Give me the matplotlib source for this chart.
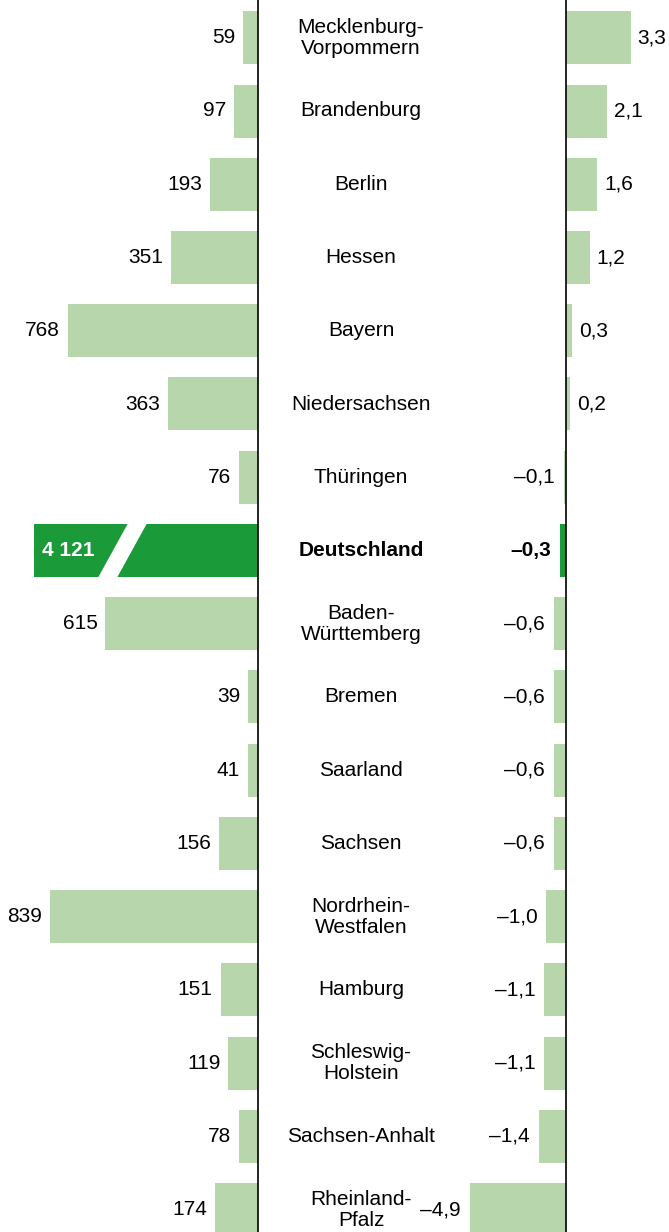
import matplotlib.pyplot as plt
from matplotlib.patches import Polygon
import matplotlib.transforms as mtransforms

plt.rcParams['font.family'] = ['Liberation Sans', 'DejaVu Sans']

# data
states = ["Mecklenburg-\nVorpommern", "Brandenburg", "Berlin", "Hessen", "Bayern",
          "Niedersachsen", "Thüringen", "Deutschland", "Baden-\nWürttemberg", "Bremen",
          "Saarland", "Sachsen", "Nordrhein-\nWestfalen", "Hamburg", "Schleswig-\nHolstein",
          "Sachsen-Anhalt", "Rheinland-\nPfalz"]
counts = [59, 97, 193, 351, 768, 363, 76, 4121, 615, 39, 41, 156, 839, 151, 119, 78, 174]
change = [3.3, 2.1, 1.6, 1.2, 0.3, 0.2, -0.1, -0.3, -0.6, -0.6, -0.6, -0.6,
          -1.0, -1.1, -1.1, -1.4, -4.9]
total_label = "Deutschland"
break_at = 905  # displayed length of the broken total bar

light = '#b8d6ac'
dark = '#1a9a38'
fs = 15

W, H = 669, 1232
fig = plt.figure(figsize=(W / 100, H / 100), dpi=100)

# left panel: counts, zero at x=258 px
lscale = 0.248
ax_l = fig.add_axes([0, 0, 258 / W, 1])
ax_l.set_xlim(258 / lscale, 0)
# right panel: change, zero at x=566 px
rscale = 19.6
ax_r = fig.add_axes([400 / W, 0, 269 / W, 1])
ax_r.set_xlim(-166 / rscale, 103 / rscale)

pitch = 73.25
y0 = 37.75
for ax in (ax_l, ax_r):
    ax.set_ylim((H - y0) / pitch, -y0 / pitch)
    ax.axis('off')
    ax.axvline(0, color='black', lw=1.2, clip_on=False, zorder=3)

bh = 53 / pitch


def fmt_int(v):
    return f"{v:,}".replace(",", " ")


def fmt_dec(v):
    s = f"{abs(v):.1f}".replace(".", ",")
    return ("–" + s) if v < 0 else s


name_tr = mtransforms.blended_transform_factory(fig.transFigure, ax_l.transData)

for i, (name, n, c) in enumerate(zip(states, counts, change)):
    total = name == total_label
    col = dark if total else light
    weight = 'bold' if total else 'normal'

    # left bars
    shown = min(n, break_at) if total else n
    ax_l.barh(i, shown, height=bh, color=col, lw=0)
    if total:
        # white slanted break in the bar
        def px(p):
            return (258 - p) / lscale
        top, bot = i - bh / 2 - 0.01, i + bh / 2 + 0.01
        ax_l.add_patch(Polygon([(px(128), top), (px(147), top), (px(117), bot), (px(98), bot)],
                               closed=True, facecolor='white', edgecolor='none', zorder=2))
        ax_l.annotate(fmt_int(n), (shown, i), xytext=(8, 0), textcoords='offset pixels',
                      ha='left', va='center', fontsize=fs, color='white', fontweight='bold')
    else:
        ax_l.annotate(fmt_int(n), (n, i), xytext=(-8, 0), textcoords='offset pixels',
                      ha='right', va='center', fontsize=fs, color='black')

    # state names
    ax_l.text(361 / W, i, name, transform=name_tr, ha='center', va='center',
              fontsize=fs, fontweight=weight, linespacing=1.12)

    # right bars
    ax_r.barh(i, c, height=bh, color=col, lw=0)
    if c >= 0:
        ax_r.annotate(fmt_dec(c), (c, i), xytext=(7, 0), textcoords='offset pixels',
                      ha='left', va='center', fontsize=fs, fontweight=weight)
    else:
        ax_r.annotate(fmt_dec(c), (c, i), xytext=(-9, 0), textcoords='offset pixels',
                      ha='right', va='center', fontsize=fs, fontweight=weight)

fig.savefig('out.png', dpi=100)
